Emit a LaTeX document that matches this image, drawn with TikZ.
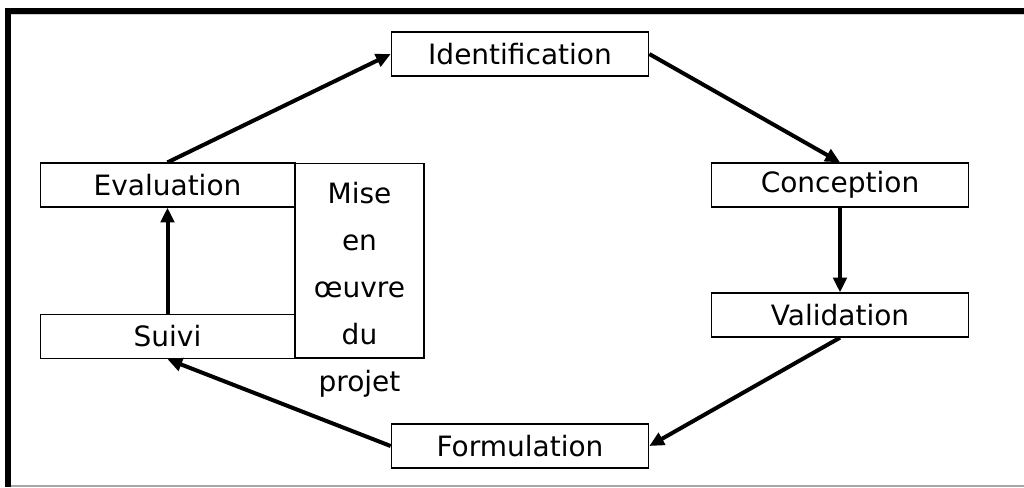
\documentclass[tikz,border=0pt]{standalone}
\usepackage{fontspec}
\setmainfont{DejaVu Sans}
\usetikzlibrary{arrows.meta}
\tikzset{
  stage/.style={draw, line width=1pt, minimum width=193pt, minimum height=33pt, inner sep=0pt},
  flow/.style={line width=3pt, -{Triangle[length=11pt,width=10pt]}},
}
\begin{document}
\begin{tikzpicture}[x=0.75pt,y=-0.75pt,font=\fontsize{21}{24}\selectfont]
  \useasboundingbox (0,0) rectangle (1024,487);
  % page frame
  \draw[gray!70, line width=1.2pt] (8,486) -- (1024,486);
  \draw[gray!40, line width=0.8pt] (8,14.5) -- (1024,14.5);
  \fill (5,8) rectangle (1024,14);
  \fill (5,8) rectangle (10.5,487);
  % stages
  \node [stage] (ident) at (520,54) {Identification};
  \node [stage] (concep) at (840,185) {Conception};
  \node [stage] (valid) at (840,315) {Validation};
  \node [stage] (formul) at (520,446) {Formulation};
  \node [stage, minimum width=191pt] (suivi) at (167.5,336.5) {Suivi};
  \node [stage, minimum width=191pt] (evalu) at (167.5,185) {Evaluation};
  \node [draw, line width=1pt, minimum width=96.75pt, minimum height=146pt] (mise) at (359.5,260.5) {};
  \node [align=center, font=\fontsize{21}{35.25}\selectfont] (misetext) at (359.5,290) {Mise\\en\\œuvre\\du\\projet};
  % cycle
  \draw [flow] (evalu.north) -- (ident.west);
  \draw [flow] (ident.east) -- (concep.north);
  \draw [flow] (concep.south) -- (valid.north);
  \draw [flow] (valid.south) -- (formul.east);
  \draw [flow] (formul.west) -- (suivi.south);
  \draw [flow] (suivi.north) -- (evalu.south);
\end{tikzpicture}
\end{document}
